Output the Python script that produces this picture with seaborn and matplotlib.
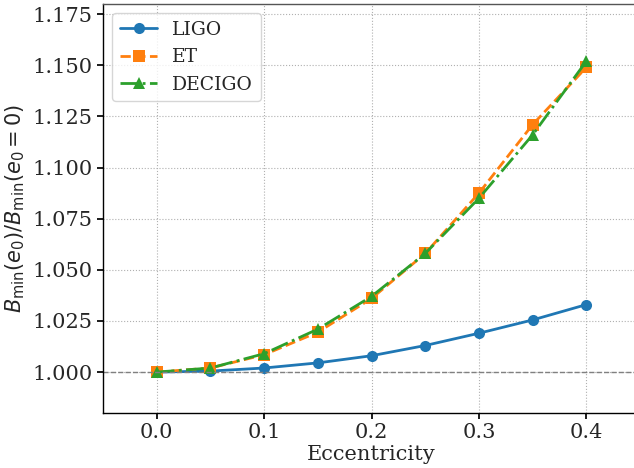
import matplotlib
matplotlib.use("Agg")
import matplotlib.pyplot as plt
import seaborn as sns
import pandas as pd

ecc = [0.0, 0.05, 0.10, 0.15, 0.20, 0.25, 0.30, 0.35, 0.40]
ligo = [1.000, 1.0005, 1.002, 1.0045, 1.008, 1.013, 1.019, 1.0255, 1.033]
et = [1.000, 1.002, 1.0085, 1.0195, 1.036, 1.058, 1.0875, 1.121, 1.149]
decigo = [1.000, 1.002, 1.009, 1.021, 1.037, 1.058, 1.085, 1.116, 1.152]

detectors = ["LIGO", "ET", "DECIGO"]
colors = ["#1f77b4", "#ff7f0e", "#2ca02c"]
markers = ["o", "s", "^"]
styles = ["-", "--", "-."]
sizes = [8, 9, 9]

sns.set_theme(style="ticks")
plt.rcParams["font.family"] = "DejaVu Serif"
plt.rcParams["mathtext.fontset"] = "dejavusans"

df = pd.DataFrame({"Eccentricity": ecc * 3,
                   "ratio": ligo + et + decigo,
                   "detector": sum([[d] * len(ecc) for d in detectors], [])})

fig = plt.figure(figsize=(6.34, 4.68), dpi=100)
ax = fig.add_axes([103 / 634, 1 - 413 / 468, (640 - 103) / 634, (413 - 4) / 468])

for d, c, m, ls, ms in zip(detectors, colors, markers, styles, sizes):
    sub = df[df["detector"] == d]
    sns.lineplot(data=sub, x="Eccentricity", y="ratio", ax=ax, color=c, marker=m,
                 linestyle=ls, markersize=ms, linewidth=2, markeredgewidth=0,
                 label=d)

ax.axhline(1.0, color="gray", linestyle="--", linewidth=1)
ax.set_xlim(-0.05, 0.45)
ax.set_ylim(0.98, 1.18)
ax.set_xticks([0.0, 0.1, 0.2, 0.3, 0.4])
ax.set_yticks([1.000, 1.025, 1.050, 1.075, 1.100, 1.125, 1.150, 1.175])
ax.set_yticklabels([f"{v:.3f}" for v in ax.get_yticks()])
ax.grid(True, linestyle=":", color="#b0b0b0", linewidth=0.8)
ax.tick_params(labelsize=15, direction="out", length=4, color="black")
for s in ax.spines.values():
    s.set_color("black")
    s.set_linewidth(1)
ax.spines["top"].set_color("#555555")
ax.set_xlabel("Eccentricity", fontsize=15, labelpad=2)
ax.set_ylabel(r"$B_{\rm min}(e_0)/B_{\rm min}(e_0=0)$", fontsize=15)
ax.legend(loc="upper left", fontsize=13.5, framealpha=0.8)

fig.savefig("out.png", dpi=100)
